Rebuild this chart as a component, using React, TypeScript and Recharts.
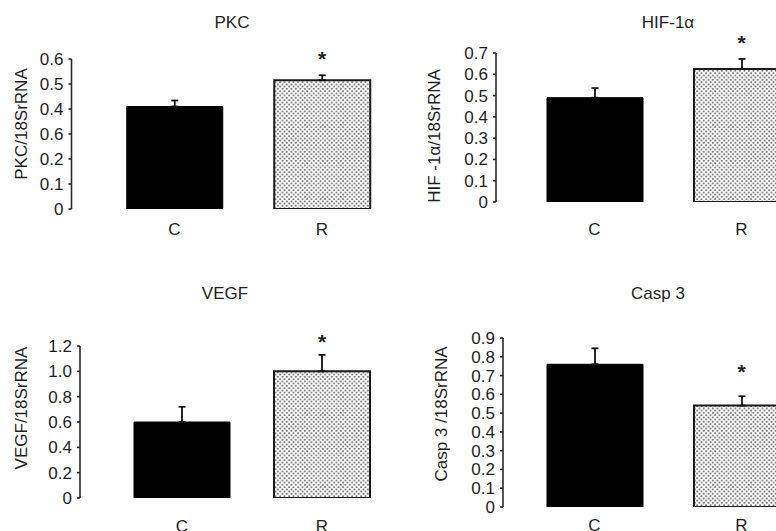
import React from "react";
import { BarChart, Bar, XAxis, YAxis, ErrorBar, ReferenceDot, Cell } from "recharts";

// ---- data ----
const categories = ["C", "R"];

const pkcValues = [0.41, 0.515];
const pkcErrors = [0.024, 0.02];
const pkcTicks = [0, 0.1, 0.2, 0.3, 0.4, 0.5, 0.6];
const pkcTickLabels = ["0", "0.1", "0.2", "0.6", "0.4", "0.5", "0.6"];
const pkcStar = 0.62;

const hifValues = [0.49, 0.625];
const hifErrors = [0.045, 0.047];
const hifTicks = [0, 0.1, 0.2, 0.3, 0.4, 0.5, 0.6, 0.7];
const hifTickLabels = ["0", "0.1", "0.2", "0.3", "0.4", "0.5", "0.6", "0.7"];
const hifStar = 0.77;

const vegfValues = [0.6, 1.0];
const vegfErrors = [0.12, 0.13];
const vegfTicks = [0, 0.2, 0.4, 0.6, 0.8, 1.0, 1.2];
const vegfTickLabels = ["0", "0.2", "0.4", "0.6", "0.8", "1.0", "1.2"];
const vegfStar = 1.27;

const caspValues = [0.76, 0.54];
const caspErrors = [0.085, 0.05];
const caspTicks = [0, 0.1, 0.2, 0.3, 0.4, 0.5, 0.6, 0.7, 0.8, 0.9];
const caspTickLabels = ["0", "0.1", "0.2", "0.3", "0.4", "0.5", "0.6", "0.7", "0.8", "0.9"];
const caspStar = 0.745;

const starCategory = "R";

// ---- styles ----
const FONT = "'Liberation Sans', Arial, sans-serif";
const TEXT = "#1e1e1e";
const AXIS = "#2a2a2a";

type Layout = {
  left: number;
  top: number;
  width: number;
  height: number;
  margin: { top: number; right: number; bottom: number; left: number };
  padLeft: number;
  xTickMargin: number;
  titleX: number;
  titleY: number;
  ylabX: number;
  ylabY: number;
};

type PanelProps = {
  id: string;
  title: string;
  yLabel: string;
  values: number[];
  errors: number[];
  ticks: number[];
  tickLabels: string[];
  star: number;
  layout: Layout;
};

function Panel({ id, title, yLabel, values, errors, ticks, tickLabels, star, layout }: PanelProps) {
  const data = categories.map((name, i) => ({ name, value: values[i], err: [0, errors[i]] }));
  const max = ticks[ticks.length - 1];
  return (
    <>
      <div
        style={{
          position: "absolute",
          left: layout.titleX,
          top: layout.titleY,
          transform: "translate(-50%, -50%)",
          fontSize: 17,
          whiteSpace: "nowrap",
          color: TEXT,
        }}
      >
        {title}
      </div>
      <div
        style={{
          position: "absolute",
          left: layout.ylabX,
          top: layout.ylabY,
          transform: "translate(-50%, -50%) rotate(-90deg)",
          fontSize: 17,
          whiteSpace: "nowrap",
          color: TEXT,
        }}
      >
        {yLabel}
      </div>
      <div style={{ position: "absolute", left: layout.left, top: layout.top }}>
        <BarChart width={layout.width} height={layout.height} data={data} margin={layout.margin} barSize={96}>
          <defs>
            <pattern id={`dots-${id}`} width="4.5" height="4.5" patternUnits="userSpaceOnUse">
              <rect width="4.5" height="4.5" fill="#ffffff" />
              <circle cx="1.1" cy="1.1" r="0.95" fill="#555555" />
              <circle cx="3.35" cy="3.35" r="0.95" fill="#555555" />
            </pattern>
          </defs>
          <XAxis
            dataKey="name"
            axisLine={false}
            tickLine={false}
            tickSize={0}
            tickMargin={layout.xTickMargin}
            height={30}
            interval={0}
            padding={{ left: layout.padLeft, right: 0 }}
            tick={{ fill: TEXT, fontSize: 17 }}
          />
          <YAxis
            type="number"
            domain={[0, max]}
            ticks={ticks}
            interval={0}
            allowDataOverflow
            width={60}
            tickSize={3}
            tickMargin={5}
            axisLine={{ stroke: AXIS, strokeWidth: 1.6 }}
            tickLine={{ stroke: AXIS, strokeWidth: 1.6 }}
            tick={{ fill: TEXT, fontSize: 17 }}
            tickFormatter={(v: number) => {
              const k = ticks.findIndex((t) => Math.abs(t - v) < 1e-9);
              return k >= 0 ? tickLabels[k] : String(v);
            }}
          />
          <Bar dataKey="value" isAnimationActive={false}>
            {data.map((d) =>
              d.name === "C" ? (
                <Cell key={d.name} fill="#000000" stroke="#000000" strokeWidth={1} />
              ) : (
                <Cell key={d.name} fill={`url(#dots-${id})`} stroke="#1a1a1a" strokeWidth={2} />
              )
            )}
            <ErrorBar dataKey="err" direction="y" width={3.5} stroke="#111" strokeWidth={1.8} isAnimationActive={false} />
          </Bar>
          <ReferenceDot
            x={starCategory}
            y={star}
            r={0}
            ifOverflow="visible"
            shape={(p: any) => (
              <text x={p.cx} y={p.cy + 12} textAnchor="middle" fontSize={21} fontWeight="bold" fill={TEXT} fontFamily={FONT}>
                *
              </text>
            )}
          />
        </BarChart>
      </div>
    </>
  );
}

const pkcLayout: Layout = {
  left: 0, top: 0, width: 400, height: 275,
  margin: { top: 59, right: 4.25, bottom: 36, left: 11.5 },
  padLeft: 29.25, xTickMargin: 14,
  titleX: 232, titleY: 23, ylabX: 22, ylabY: 124,
};
const hifLayout: Layout = {
  left: 390, top: 0, width: 430, height: 275,
  margin: { top: 53, right: 5, bottom: 43, left: 46 },
  padLeft: 25, xTickMargin: 21,
  titleX: 668, titleY: 23, ylabX: 435, ylabY: 136,
};
const vegfLayout: Layout = {
  left: 0, top: 270, width: 400, height: 275,
  margin: { top: 76, right: 8, bottom: 17, left: 20 },
  padLeft: 32, xTickMargin: 21.5,
  titleX: 225, titleY: 294, ylabX: 22, ylabY: 408,
};
const caspLayout: Layout = {
  left: 390, top: 270, width: 430, height: 275,
  margin: { top: 68, right: 5, bottom: 8, left: 53 },
  padLeft: 18, xTickMargin: 12,
  titleX: 658, titleY: 294, ylabX: 442, ylabY: 414,
};

export default function App() {
  return (
    <div
      style={{
        position: "absolute",
        left: 0,
        top: 0,
        width: 776,
        height: 531,
        overflow: "hidden",
        background: "#ffffff",
        fontFamily: FONT,
      }}
    >
      <Panel id="pkc" title="PKC" yLabel="PKC/18SrRNA" values={pkcValues} errors={pkcErrors}
        ticks={pkcTicks} tickLabels={pkcTickLabels} star={pkcStar} layout={pkcLayout} />
      <Panel id="hif" title="HIF-1α" yLabel="HIF -1α/18SrRNA" values={hifValues} errors={hifErrors}
        ticks={hifTicks} tickLabels={hifTickLabels} star={hifStar} layout={hifLayout} />
      <Panel id="vegf" title="VEGF" yLabel="VEGF/18SrRNA" values={vegfValues} errors={vegfErrors}
        ticks={vegfTicks} tickLabels={vegfTickLabels} star={vegfStar} layout={vegfLayout} />
      <Panel id="casp" title="Casp 3" yLabel="Casp 3 /18SrRNA" values={caspValues} errors={caspErrors}
        ticks={caspTicks} tickLabels={caspTickLabels} star={caspStar} layout={caspLayout} />
    </div>
  );
}
